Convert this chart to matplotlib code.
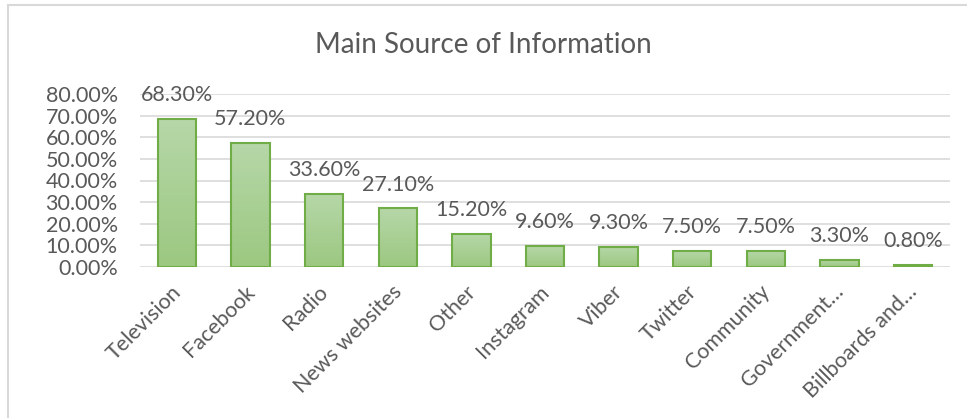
import numpy as np
import matplotlib.pyplot as plt
from matplotlib.lines import Line2D
from matplotlib.colors import LinearSegmentedColormap
from matplotlib.transforms import ScaledTranslation

plt.rcParams['font.family'] = ['Lato', 'DejaVu Sans']

categories = ['Television', 'Facebook', 'Radio', 'News websites', 'Other',
              'Instagram', 'Viber', 'Twitter', 'Community', 'Government…',
              'Billboards and…']
values = [68.3, 57.2, 33.6, 27.1, 15.2, 9.6, 9.3, 7.5, 7.5, 3.3, 0.8]
yticks = [0, 10, 20, 30, 40, 50, 60, 70, 80]

W, H = 967, 418
fig = plt.figure(figsize=(W / 100, H / 100), dpi=100)
ax = fig.add_axes([140 / W, 1 - 267 / H, 810 / W, 173 / H])

gray = '#595959'
fs = 15.5
x = np.arange(len(categories))

# gradient bars: image clipped to each bar
grad = np.linspace(0, 1, 256).reshape(-1, 1)
cmap = LinearSegmentedColormap.from_list('g', ['#9cc881', '#b6d7a8'])
bars = ax.bar(x, values, width=0.52, color='none', edgecolor='#70ad47',
              linewidth=1.5, zorder=3)
for b in bars:
    im = ax.imshow(grad, cmap=cmap, aspect='auto', origin='lower',
                   extent=[b.get_x(), b.get_x() + b.get_width(), 0, b.get_height()],
                   zorder=2)
    im.set_clip_path(b)
ax.set_xlim(-0.5, len(categories) - 0.5)
ax.set_ylim(0, 80)

for xi, v in zip(x, values):
    ax.annotate(f'{v:.2f}%', (xi, v), xytext=(0, 10), textcoords='offset points',
                ha='center', va='bottom', fontsize=fs, color=gray)

ax.set_yticks(yticks)
ax.set_yticklabels([f'{t:.2f}%' for t in yticks])
ax.yaxis.grid(True, color='#d9d9d9', linewidth=1.2, zorder=0)
ax.set_axisbelow(True)
for s in ax.spines.values():
    s.set_visible(False)
ax.tick_params(axis='both', length=0, labelsize=fs, labelcolor=gray)
ax.tick_params(axis='y', pad=16)
ax.set_xticks(x)
ax.set_xticklabels(categories, rotation=45, ha='right', rotation_mode='anchor')
ax.tick_params(axis='x', pad=9)
shift = ScaledTranslation(-6 / 100, -2 / 100, fig.dpi_scale_trans)
for lab in ax.get_xticklabels():
    lab.set_transform(lab.get_transform() + shift)

fig.text(0.5, 1 - 45 / H, 'Main Source of Information', ha='center',
         va='center', fontsize=20, color=gray)

fig.add_artist(Line2D([7.5 / W, 7.5 / W], [0, 1 - 4.5 / H], color='#d9d9d9',
                      linewidth=1.5, transform=fig.transFigure))
fig.add_artist(Line2D([7.5 / W, 1], [1 - 4.5 / H, 1 - 4.5 / H], color='#d9d9d9',
                      linewidth=1.5, transform=fig.transFigure))

fig.savefig('out.png', dpi=100)
